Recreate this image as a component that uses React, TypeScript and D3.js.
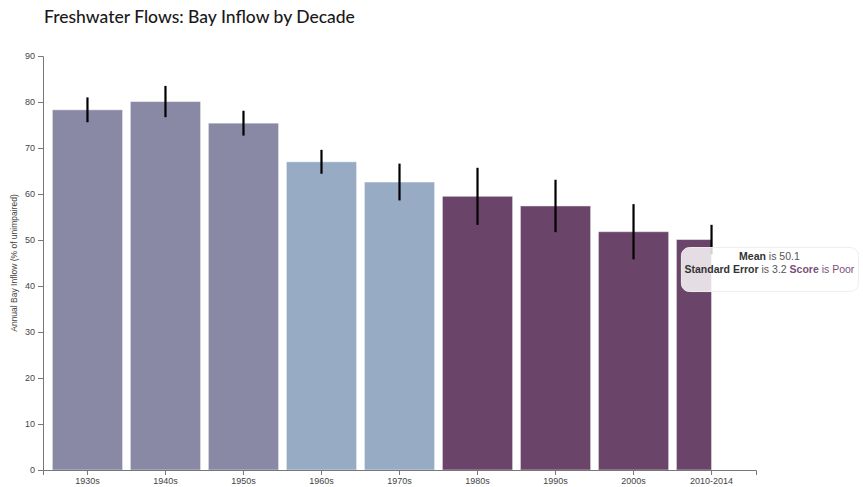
import React, { useEffect, useRef } from "react";
import * as d3 from "d3";

const decades = ["1930s", "1940s", "1950s", "1960s", "1970s", "1980s", "1990s", "2000s", "2010-2014"];
const years = [10, 10, 10, 10, 10, 10, 10, 10, 5];
const means = [78.3, 80.1, 75.4, 67.0, 62.6, 59.5, 57.4, 51.8, 50.1];
const stdErrs = [2.7, 3.4, 2.7, 2.6, 4.0, 6.2, 5.7, 6.0, 3.2];
const scores = ["Fair", "Fair", "Fair", "Good", "Good", "Poor", "Poor", "Poor", "Poor"];
const yTicks = [0, 10, 20, 30, 40, 50, 60, 70, 80, 90];
const scoreColors: Record<string, string> = { Fair: "#8988a5", Good: "#97abc5", Poor: "#6b4569" };

const W = 863, H = 487;
const M = { left: 43, right: 107, top: 56, bottom: 17 };

export default function App() {
  const ref = useRef<SVGSVGElement>(null);
  useEffect(() => {
    const svg = d3.select(ref.current);
    svg.selectAll("*").remove();
    const x = d3.scaleBand<string>().domain(decades).range([M.left, W - M.right]).paddingInner(0.1).paddingOuter(0.12);
    const y = d3.scaleLinear().domain([0, 90]).range([H - M.bottom, M.top]);

    svg.append("text").attr("x", 44).attr("y", 23).attr("font-family", "Lato, sans-serif")
      .attr("font-size", 17.5).attr("font-weight", 500).attr("fill", "#1a1a1a").text("Freshwater Flows: Bay Inflow by Decade");

    const data = decades.map((d, i) => ({ d, yrs: years[i], m: means[i], se: stdErrs[i], s: scores[i] }));

    svg.append("g").selectAll("rect").data(data).join("rect")
      .attr("x", (r) => x(r.d)!)
      .attr("y", (r) => y(r.m))
      .attr("width", (r) => x.bandwidth() * r.yrs / 10)
      .attr("height", (r) => y(0) - y(r.m))
      .attr("fill", (r) => scoreColors[r.s])
      .attr("stroke", "#ffffff").attr("stroke-opacity", 0.45).attr("stroke-width", 1);

    svg.append("g").selectAll("line").data(data).join("line")
      .attr("x1", (r) => x(r.d)! + x.bandwidth() / 2)
      .attr("x2", (r) => x(r.d)! + x.bandwidth() / 2)
      .attr("y1", (r) => y(r.m + r.se))
      .attr("y2", (r) => y(r.m - r.se))
      .attr("stroke", "#000").attr("stroke-width", 2.2);

    const font = "Arial, 'Liberation Sans', sans-serif";
    const gx = svg.append("g").attr("transform", `translate(0,${y(0)})`).call(d3.axisBottom(x).tickSize(5));
    const gy = svg.append("g").attr("transform", `translate(${M.left},0)`).call(d3.axisLeft(y).tickValues(yTicks).tickSize(5));
    [gx, gy].forEach((g) => {
      g.selectAll("text").attr("font-family", font).attr("font-size", 9).attr("fill", "#444");
      g.selectAll("path,line").attr("stroke", "#777");
    });

    svg.append("text").attr("transform", `translate(17,${(y(0) + y(90)) / 2}) rotate(-90)`)
      .attr("text-anchor", "middle").attr("font-family", font)
      .attr("font-size", 8.5).attr("fill", "#444").text("Annual Bay Inflow (% of unimpaired)");

    // tooltip for last bar
    const last = data[data.length - 1];
    const tx = x(last.d)! + 5, ty = y(last.m) + 8;
    const tip = svg.append("g").attr("transform", `translate(${tx},${ty})`);
    tip.append("rect").attr("width", 177).attr("height", 44).attr("rx", 8)
      .attr("fill", "#ffffff").attr("fill-opacity", 0.82).attr("stroke", "#eeeeee");
    const t1 = tip.append("text").attr("x", 88).attr("y", 12).attr("text-anchor", "middle")
      .attr("font-family", font).attr("font-size", 10.5).attr("fill", "#333");
    t1.append("tspan").attr("font-weight", "bold").text("Mean");
    t1.append("tspan").attr("fill", "#555").text(" is " + last.m.toFixed(1));
    const t2 = tip.append("text").attr("x", 88).attr("y", 25).attr("text-anchor", "middle")
      .attr("font-family", font).attr("font-size", 10.5).attr("fill", "#333");
    t2.append("tspan").attr("font-weight", "bold").text("Standard Error");
    t2.append("tspan").attr("fill", "#555").text(" is " + last.se.toFixed(1) + " ");
    t2.append("tspan").attr("font-weight", "bold").attr("fill", "#7a4f7a").text("Score");
    t2.append("tspan").attr("fill", "#7a4f7a").text(" is " + last.s);
  }, []);
  return (
    <svg ref={ref} width={W} height={H} style={{ position: "absolute", left: 0, top: 0, background: "#fff" }} />
  );
}
